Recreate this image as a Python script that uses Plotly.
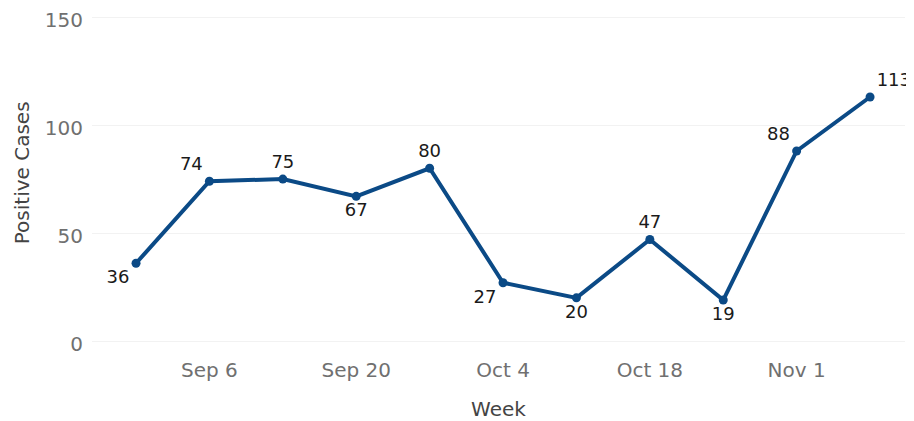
import plotly.graph_objects as go

weeks = ["2020-08-30", "2020-09-06", "2020-09-13", "2020-09-20", "2020-09-27",
         "2020-10-04", "2020-10-11", "2020-10-18", "2020-10-25", "2020-11-01", "2020-11-08"]
cases = [36, 74, 75, 67, 80, 27, 20, 47, 19, 88, 113]
label_pos = ["bottom left", "top left", "top center", "bottom center", "top center",
             "bottom left", "bottom center", "top center", "bottom center", "top left", "top right"]
tick_vals = ["2020-09-06", "2020-09-20", "2020-10-04", "2020-10-18", "2020-11-01"]
tick_text = ["Sep 6", "Sep 20", "Oct 4", "Oct 18", "Nov 1"]

fig = go.Figure(go.Scatter(
    x=weeks, y=cases, mode="lines+markers+text",
    text=[str(c) for c in cases], textposition=label_pos,
    textfont=dict(family="DejaVu Sans", size=18, color="#1a1a1a"),
    line=dict(color="#0b4a86", width=4),
    marker=dict(color="#0b4a86", size=9),
    cliponaxis=False,
))

fig.update_layout(
    width=906, height=413,
    margin=dict(l=84, r=9, t=8, b=67),
    paper_bgcolor="white", plot_bgcolor="white",
    showlegend=False,
    font=dict(family="DejaVu Sans", color="#555"),
    xaxis=dict(
        range=["2020-08-25 19:15", "2020-11-11 08:00"],
        tickvals=tick_vals, ticktext=tick_text,
        tickfont=dict(size=20, color="#707070"),
        showgrid=False, zeroline=False, showline=False,
        ticks="", ticklen=0, automargin=False, ticklabelstandoff=2,
        title=dict(text="Week", font=dict(size=20, color="#444"), standoff=22),
    ),
    yaxis=dict(
        range=[-6, 150.5],
        tickvals=[0, 50, 100, 150],
        tickfont=dict(size=20, color="#707070"),
        showgrid=True, gridcolor="#f2f2f2", gridwidth=1,
        zeroline=False, showline=False, automargin=False,
        ticklabelstandoff=8, ticklabeloverflow="allow", ticklabelshift=3,
    ),
    annotations=[dict(
        text="Positive Cases", textangle=-90, showarrow=False,
        xref="paper", yref="paper", x=-0.086, y=0.535,
        xanchor="center", yanchor="middle",
        font=dict(family="DejaVu Sans", size=20, color="#444"),
    )],
)

fig.write_html("out.html")
